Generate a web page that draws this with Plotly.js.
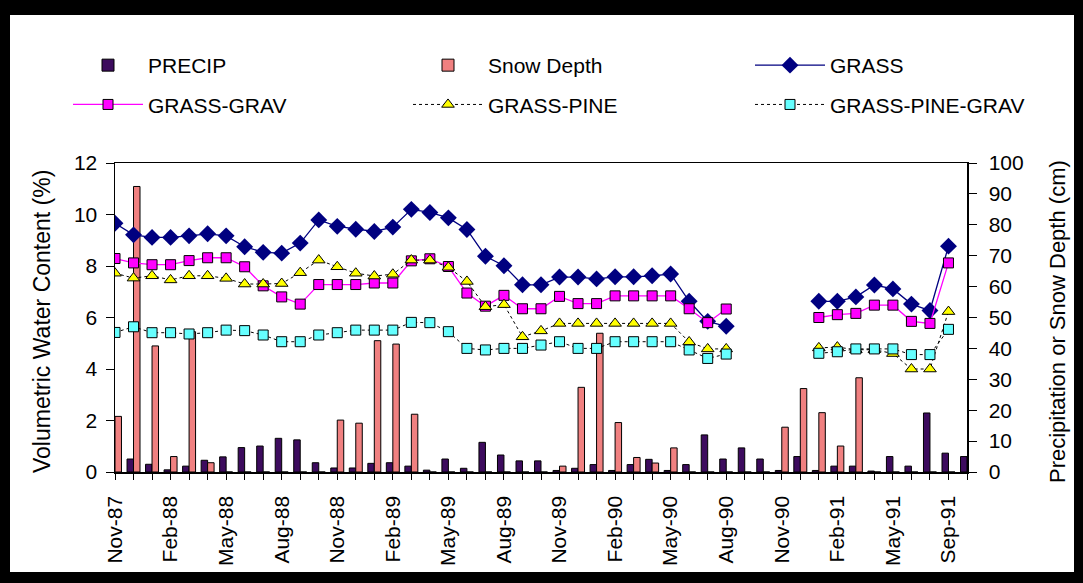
<!DOCTYPE html>
<html><head><meta charset="utf-8">
<script src="https://cdn.plot.ly/plotly-3.0.1.min.js"></script>
<style>
html,body{margin:0;padding:0;background:#000;width:1083px;height:583px;overflow:hidden;}
#chart{position:absolute;left:10px;top:15px;width:1064px;height:557px;background:#fff;}
</style></head><body><div id="chart"></div><script>
// ---- data ----
const categories = ["Nov-87","Dec-87","Jan-88","Feb-88","Mar-88","Apr-88","May-88","Jun-88","Jul-88","Aug-88","Sep-88","Oct-88",
  "Nov-88","Dec-88","Jan-89","Feb-89","Mar-89","Apr-89","May-89","Jun-89","Jul-89","Aug-89","Sep-89","Oct-89",
  "Nov-89","Dec-89","Jan-90","Feb-90","Mar-90","Apr-90","May-90","Jun-90","Jul-90","Aug-90","Sep-90","Oct-90",
  "Nov-90","Dec-90","Jan-91","Feb-91","Mar-91","Apr-91","May-91","Jun-91","Aug-91","Sep-91","Oct-91"];
const tickLabels = ["Nov-87","Feb-88","May-88","Aug-88","Nov-88","Feb-89","May-89","Aug-89","Nov-89","Feb-90","May-90","Aug-90","Nov-90","Feb-91","May-91","Sep-91"];
const precip = [0,4.2,2.5,0.7,1.9,3.8,4.9,7.9,8.4,10.9,
  10.4,3.0,1.3,1.3,2.8,3.0,1.9,0.6,4.2,1.2,
  9.6,5.5,3.6,3.6,0.5,1.2,2.4,0.5,2.4,4.1,
  0.5,2.4,12.0,4.2,7.8,4.2,0.5,5.0,0.5,1.9,
  1.9,0.3,5.0,1.9,19.1,6.1,5.0];
const snowDepth = [18.0,92.4,40.8,5.0,45.4,3.0,0,0,0,0,
  0,0,16.8,15.8,42.5,41.4,18.7,0,0,0,
  0,0,0,0,1.9,27.4,44.9,16.0,4.7,2.9,
  7.8,0,0,0,0,0,14.5,27.0,19.2,8.4,
  30.5,0,0,0,0,0,0];
const grass = [9.66,9.21,9.11,9.11,9.17,9.25,9.17,8.75,8.53,8.50,
  8.89,9.79,9.54,9.43,9.34,9.51,10.20,10.08,9.87,9.42,
  8.38,8.01,7.27,7.27,7.57,7.57,7.50,7.58,7.58,7.62,
  7.69,6.63,5.85,5.66,null,null,null,null,6.63,6.63,
  6.80,7.26,7.11,6.52,6.27,8.77,null];
const grassGrav = [8.29,8.12,8.05,8.05,8.21,8.32,8.32,7.97,7.23,6.80,
  6.52,7.28,7.28,7.28,7.34,7.34,8.20,8.28,7.98,6.95,
  6.44,6.86,6.34,6.34,6.82,6.54,6.54,6.84,6.84,6.84,
  6.84,6.34,5.80,6.33,null,null,null,null,6.00,6.11,
  6.16,6.48,6.48,5.85,5.77,8.12,null];
const grassPine = [7.72,7.53,7.62,7.46,7.62,7.62,7.52,7.30,7.30,7.32,
  7.74,8.23,7.97,7.72,7.61,7.68,8.23,8.23,7.95,7.40,
  6.42,6.50,5.25,5.48,5.77,5.77,5.77,5.77,5.77,5.77,
  5.77,5.05,4.78,4.78,null,null,null,null,4.82,4.85,
  4.75,4.75,4.60,4.00,4.00,6.23,null];
const grassPineGrav = [5.42,5.64,5.41,5.41,5.36,5.41,5.51,5.49,5.32,5.06,
  5.06,5.32,5.41,5.51,5.51,5.51,5.81,5.80,5.45,4.80,
  4.74,4.80,4.80,4.93,5.06,4.80,4.80,5.06,5.06,5.06,
  5.06,4.74,4.41,4.58,null,null,null,null,4.61,4.67,
  4.78,4.78,4.78,4.56,4.56,5.54,null];

// ---- layout helpers ----
const W = 1064, H = 557;
const M = {l:105, r:107, t:148, b:100};
const pw = W - M.l - M.r, ph = H - M.t - M.b;
const px = x => (x - M.l) / pw;
const py = y => (H - M.b - y) / ph;
const FONT = 'Arial, "Liberation Sans", sans-serif';
const tickText = categories.map(c => tickLabels.includes(c) ? c : '');

const traces = [
  {type:'bar', name:'PRECIP', x:categories, y:precip, yaxis:'y', legend:'legend', legendgroup:'a',
   marker:{color:'#3d0b5e', line:{color:'#000', width:1}}},
  {type:'bar', name:'Snow Depth', x:categories, y:snowDepth, yaxis:'y', legend:'legend2', legendgroup:'b',
   marker:{color:'#f08080', line:{color:'#000', width:1}}},
  {type:'scatter', mode:'lines+markers', name:'GRASS', x:categories, y:grass, yaxis:'y2', legend:'legend3', legendgroup:'c',
   line:{color:'#000080', width:1.3}, marker:{symbol:'diamond', size:13, color:'#000080'}},
  {type:'scatter', mode:'lines+markers', name:'GRASS-GRAV', x:categories, y:grassGrav, yaxis:'y2', legend:'legend', legendgroup:'d',
   line:{color:'#ff00ff', width:1.3}, marker:{symbol:'square', size:10, color:'#ff00ff', line:{color:'#000', width:1}}},
  {type:'scatter', mode:'lines+markers', name:'GRASS-PINE', x:categories, y:grassPine, yaxis:'y2', legend:'legend2', legendgroup:'e',
   line:{color:'#000', width:1, dash:'dot'}, marker:{symbol:'triangle-up', size:11, color:'#ffff00', line:{color:'#000', width:1}}},
  {type:'scatter', mode:'lines+markers', name:'GRASS-PINE-GRAV', x:categories, y:grassPineGrav, yaxis:'y2', legend:'legend3', legendgroup:'f',
   line:{color:'#000', width:1, dash:'dot'}, marker:{symbol:'square', size:10, color:'#66ffff', line:{color:'#000', width:1}}}
];

const LEG_TOP = 30;
const legendBase = {orientation:'v', xanchor:'left', yanchor:'top', y:py(LEG_TOP),
  itemwidth:70, font:{family:FONT, size:21, color:'#000'}, bgcolor:'rgba(0,0,0,0)',
  traceorder:'grouped', tracegroupgap:9};

const layout = {
  width:W, height:H, margin:M, paper_bgcolor:'#fff', plot_bgcolor:'#fff',
  font:{family:FONT, size:21, color:'#000'},
  barmode:'group', bargap:0.3, bargroupgap:0,
  showlegend:true,
  legend:Object.assign({}, legendBase, {x:px(58)}),
  legend2:Object.assign({}, legendBase, {x:px(398)}),
  legend3:Object.assign({}, legendBase, {x:px(740)}),
  xaxis:{type:'category', categoryorder:'array', categoryarray:categories, range:[0, categories.length-1],
    tickmode:'array', tickvals:categories, ticktext:tickText, tickangle:-90,
    ticks:'outside', ticklen:6, tickcolor:'#000', ticklabelstandoff:8,
    showline:true, linecolor:'#000', linewidth:1.5, mirror:true, showgrid:false, zeroline:false,
    tickfont:{family:FONT, size:21, color:'#000'}},
  yaxis:{side:'right', range:[0,100], dtick:10, ticks:'outside', ticklen:8, tickcolor:'#000',
    showline:true, linecolor:'#000', linewidth:1.5, showgrid:false, zeroline:false, ticklabelstandoff:8,
    tickfont:{family:FONT, size:21, color:'#000'}},
  yaxis2:{overlaying:'y', side:'left', range:[0,12], dtick:2, ticks:'outside', ticklen:8, tickcolor:'#000',
    showline:true, linecolor:'#000', linewidth:1.5, showgrid:false, zeroline:false, ticklabelstandoff:4,
    tickfont:{family:FONT, size:21, color:'#000'}},
  annotations:[
    {text:'Volumetric Water Content (%)', xref:'paper', yref:'paper', x:px(32), y:py(307), textangle:-90,
     showarrow:false, font:{family:FONT, size:23, color:'#000'}, xanchor:'center', yanchor:'middle'},
    {text:'Precipitation or Snow Depth (cm)', xref:'paper', yref:'paper', x:px(1047), y:py(307), textangle:-90,
     showarrow:false, font:{family:FONT, size:22, color:'#000'}, xanchor:'center', yanchor:'middle'}
  ]
};

Plotly.newPlot('chart', traces, layout, {displayModeBar:false, staticPlot:true});
</script></body></html>
